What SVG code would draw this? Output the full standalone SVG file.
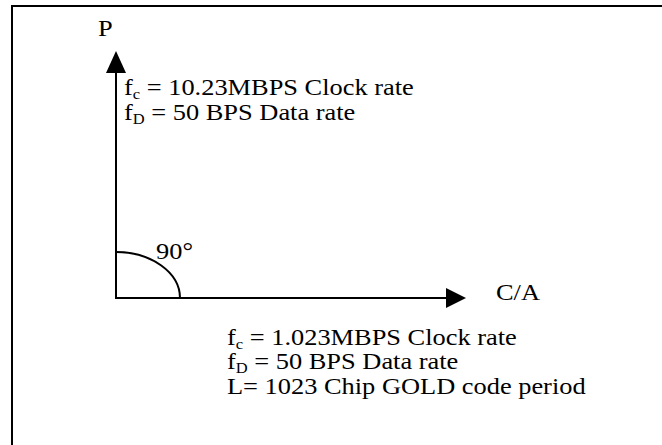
<svg xmlns="http://www.w3.org/2000/svg" width="662" height="445" viewBox="0 0 662 445">
<style>
.t{font-family:"Liberation Serif","Times New Roman",serif;font-size:24px;fill:#000}
.s{font-size:15px}
.ln{fill:none;stroke:#000;stroke-width:2}
.ah{fill:#000;stroke:none}
</style>
<rect x="0" y="0" width="662" height="445" fill="#fff"/>
<g id="frame">
<path class="ln" d="M12,450 L12,6 L670,6"/>
</g>
<g id="connectors">
<path class="ln" d="M116,73 L116,298 L446,298"/>
<polygon class="ah" points="116,51 106,73 126,73"/>
<polygon class="ah" points="466,298 446,288 446,308"/>
<path class="ln" d="M116,252 A64,46 0 0 1 180,298"/>
</g>
<g id="axis-p">
<text class="t" transform="translate(98,36) scale(1.1,1)">P</text>
</g>
<g id="p-params">
<text class="t" transform="translate(124,95) scale(1.1,1)">f<tspan class="s" dy="4">c</tspan><tspan dy="-4"> = 10.23MBPS Clock rate</tspan></text>
<text class="t" transform="translate(124,120) scale(1.1,1)">f<tspan class="s" dy="4">D</tspan><tspan dy="-4"> = 50 BPS Data rate</tspan></text>
</g>
<g id="angle">
<text class="t" transform="translate(156,259) scale(1.1,1)">90°</text>
</g>
<g id="axis-ca">
<text class="t" transform="translate(496,300) scale(1.1,1)">C/A</text>
</g>
<g id="ca-params">
<text class="t" transform="translate(227,345) scale(1.1,1)">f<tspan class="s" dy="4">c</tspan><tspan dy="-4"> = 1.023MBPS Clock rate</tspan></text>
<text class="t" transform="translate(227,369) scale(1.1,1)">f<tspan class="s" dy="4">D</tspan><tspan dy="-4"> = 50 BPS Data rate</tspan></text>
<text class="t" transform="translate(227,394) scale(1.1,1)">L= 1023 Chip GOLD code period</text>
</g>
</svg>
